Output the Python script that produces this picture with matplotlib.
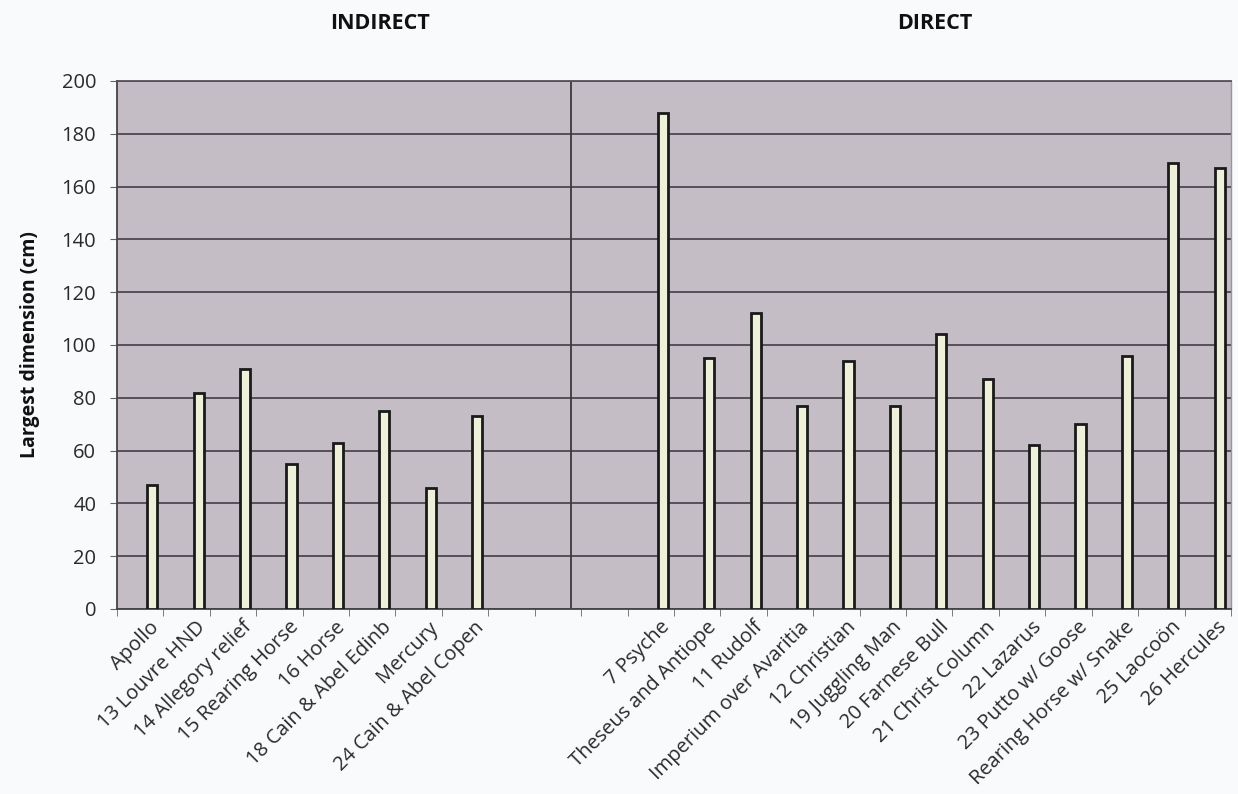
import matplotlib
matplotlib.use("Agg")
import matplotlib.pyplot as plt
import matplotlib.transforms as mtransforms
import numpy as np

categories = ["Apollo", "13 Louvre HND", "14 Allegory relief", "15 Rearing Horse",
              "16 Horse", "18 Cain & Abel Edinb", "Mercury", "24 Cain & Abel Copen",
              "", "", "",
              "7 Psyche", "Theseus and Antiope", "11 Rudolf", "Imperium over Avaritia",
              "12 Christian", "19 Juggling Man", "20 Farnese Bull", "21 Christ Column",
              "22 Lazarus", "23 Putto w/ Goose", "Rearing Horse w/ Snake",
              "25 Laocoön", "26 Hercules"]
values = [47, 82, 91, 55, 63, 75, 46, 73,
          None, None, None,
          188, 95, 112, 77, 94, 77, 104, 87, 62, 70, 96, 169, 167]
yticks = [0, 20, 40, 60, 80, 100, 120, 140, 160, 180, 200]
group_titles = ["INDIRECT", "DIRECT"]

plt.rcParams['font.family'] = ['Open Sans', 'DejaVu Sans']

fig = plt.figure(figsize=(12.38, 7.94), dpi=100, facecolor='#f8fafc')
ax = fig.add_axes([0.0945, 0.233, 0.8998, 0.665])
ax.set_facecolor('#c5bdc5')

n = len(categories)
x = np.arange(n)
offset = 0.26
bx = [xi + offset for xi, v in zip(x, values) if v is not None]
bv = [v for v in values if v is not None]

ax.set_xlim(-0.5, n - 0.5)
ax.set_ylim(0, 200)
ax.set_yticks(yticks)
ax.yaxis.grid(True, color='#56505a', linewidth=1.4)
ax.set_axisbelow(True)

ax.bar(bx, bv, width=0.22, color='#eef0da', edgecolor='#1a1a1a', linewidth=2.0, zorder=3)

# divider between groups
ax.axvline(9.28, color='#3a3a3a', linewidth=1.3, zorder=2)

# tick labels
ax.set_xticks(x + 0.2)
ax.set_xticklabels(categories, rotation=45, ha='right', rotation_mode='anchor',
                   fontsize=14.5, color='#2a2a2a')
ax.tick_params(axis='x', which='major', length=0, pad=6)
ax.set_xticks(np.arange(n + 1) - 0.5, minor=True)
ax.tick_params(axis='x', which='minor', length=5, color='#666666', direction='out')
ax.tick_params(axis='y', length=5, color='#666666', pad=10, labelsize=14.5, labelcolor='#2a2a2a')

for s in ['left', 'bottom']:
    ax.spines[s].set_color('#444444')
    ax.spines[s].set_linewidth(1.3)
ax.spines['top'].set_color('#56505a')
ax.spines['top'].set_linewidth(1.3)
ax.spines['right'].set_color('#9a949c')
ax.spines['right'].set_linewidth(1.0)

fig.text(30 / 1238, 1 - 345 / 794, "Largest dimension (cm)", rotation=90,
         ha='center', va='center', fontsize=14, fontweight='bold', color='#111111')

trans = mtransforms.blended_transform_factory(ax.transData, fig.transFigure)
ax.text(5.17, 0.97, group_titles[0], transform=trans, ha='center', va='center',
        fontsize=15.5, fontweight='bold', color='#111111')
ax.text(17.12, 0.97, group_titles[1], transform=trans, ha='center', va='center',
        fontsize=15.5, fontweight='bold', color='#111111')

fig.savefig("out.png", dpi=100, facecolor=fig.get_facecolor())
